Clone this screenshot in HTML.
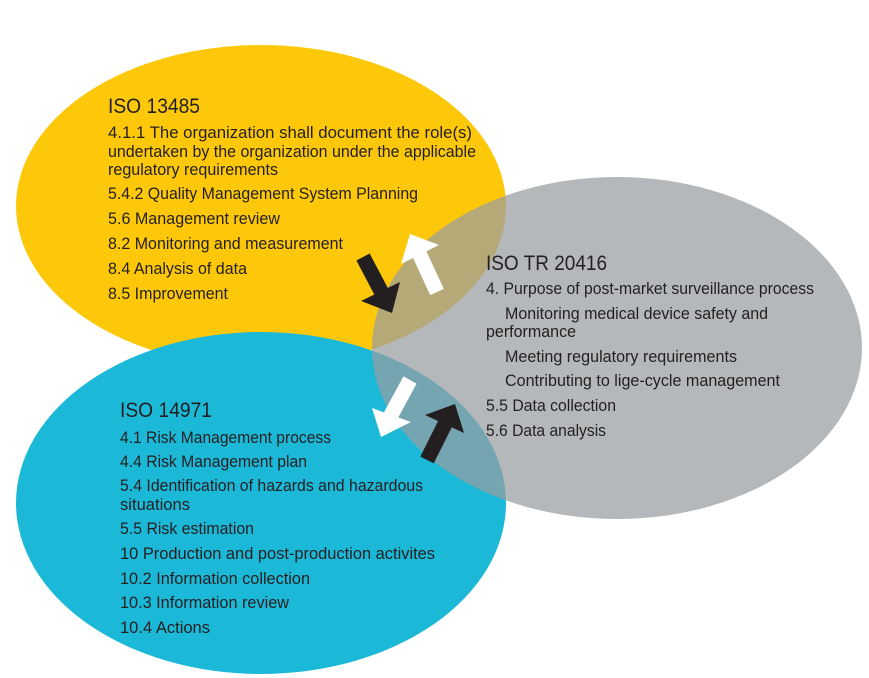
<!DOCTYPE html>
<html><head><meta charset="utf-8"><style>
html,body{margin:0;padding:0;background:#fff;}
svg{display:block;}
text{font-family:"Liberation Sans",sans-serif;fill:#231f20;}
</style></head><body>
<svg width="869" height="678" viewBox="0 0 869 678" xmlns="http://www.w3.org/2000/svg">
<ellipse cx="261" cy="206" rx="245" ry="161" fill="#fec80a"/>
<ellipse cx="261" cy="503" rx="245" ry="171" fill="#1cb8d8"/>
<ellipse cx="617" cy="348" rx="245" ry="171" fill="rgb(152,157,161)" fill-opacity="0.726"/>

<g font-size="17">
<text x="108" y="113" font-size="21" textLength="92" lengthAdjust="spacingAndGlyphs">ISO 13485</text>
<text x="108" y="138" textLength="364" lengthAdjust="spacingAndGlyphs">4.1.1 The organization shall document the role(s)</text>
<text x="108" y="157" textLength="368" lengthAdjust="spacingAndGlyphs">undertaken by the organization under the applicable</text>
<text x="108" y="175" textLength="170" lengthAdjust="spacingAndGlyphs">regulatory requirements</text>
<text x="108" y="199" textLength="310" lengthAdjust="spacingAndGlyphs">5.4.2 Quality Management System Planning</text>
<text x="108" y="224" textLength="172" lengthAdjust="spacingAndGlyphs">5.6 Management review</text>
<text x="108" y="249" textLength="235" lengthAdjust="spacingAndGlyphs">8.2 Monitoring and measurement</text>
<text x="108" y="274" textLength="139" lengthAdjust="spacingAndGlyphs">8.4 Analysis of data</text>
<text x="108" y="299" textLength="120" lengthAdjust="spacingAndGlyphs">8.5 Improvement</text>

<text x="486" y="270" font-size="21" textLength="121" lengthAdjust="spacingAndGlyphs">ISO TR 20416</text>
<text x="486" y="294" textLength="328" lengthAdjust="spacingAndGlyphs">4. Purpose of post-market surveillance process</text>
<text x="505" y="319" textLength="263" lengthAdjust="spacingAndGlyphs">Monitoring medical device safety and</text>
<text x="486" y="337" textLength="90" lengthAdjust="spacingAndGlyphs">performance</text>
<text x="505" y="362" textLength="232" lengthAdjust="spacingAndGlyphs">Meeting regulatory requirements</text>
<text x="505" y="386" textLength="275" lengthAdjust="spacingAndGlyphs">Contributing to lige-cycle management</text>
<text x="486" y="411" textLength="130" lengthAdjust="spacingAndGlyphs">5.5 Data collection</text>
<text x="486" y="436" textLength="120" lengthAdjust="spacingAndGlyphs">5.6 Data analysis</text>

<text x="120" y="417" font-size="21" textLength="92" lengthAdjust="spacingAndGlyphs">ISO 14971</text>
<text x="120" y="443" textLength="211" lengthAdjust="spacingAndGlyphs">4.1 Risk Management process</text>
<text x="120" y="467" textLength="187" lengthAdjust="spacingAndGlyphs">4.4 Risk Management plan</text>
<text x="120" y="491" textLength="303" lengthAdjust="spacingAndGlyphs">5.4 Identification of hazards and hazardous</text>
<text x="120" y="510" textLength="70" lengthAdjust="spacingAndGlyphs">situations</text>
<text x="120" y="534" textLength="134" lengthAdjust="spacingAndGlyphs">5.5 Risk estimation</text>
<text x="120" y="559" textLength="315" lengthAdjust="spacingAndGlyphs">10 Production and post-production  activites</text>
<text x="120" y="584" textLength="190" lengthAdjust="spacingAndGlyphs">10.2 Information collection</text>
<text x="120" y="608" textLength="169" lengthAdjust="spacingAndGlyphs">10.3 Information review</text>
<text x="120" y="633" textLength="90" lengthAdjust="spacingAndGlyphs">10.4 Actions</text>
</g>

<line x1="363" y1="257" x2="382" y2="293" stroke="#231f20" stroke-width="15"/>
<polygon points="361,301 400,282 392,313" fill="#231f20"/>
<line x1="437" y1="292" x2="419" y2="253" stroke="#fff" stroke-width="15"/>
<polygon points="401,264 439,245 410,234" fill="#fff"/>
<line x1="410" y1="380" x2="390" y2="417" stroke="#fff" stroke-width="15"/>
<polygon points="372,408 411,422 381,437" fill="#fff"/>
<line x1="427" y1="460" x2="446" y2="422" stroke="#231f20" stroke-width="15"/>
<polygon points="425,415 464,433 455,404" fill="#231f20"/>
</svg>
</body></html>
